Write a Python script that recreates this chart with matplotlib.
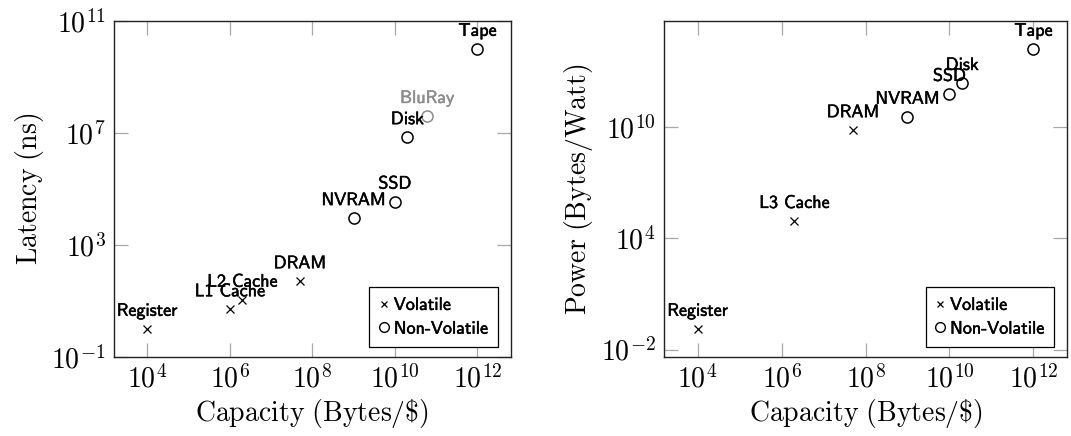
import matplotlib
matplotlib.use("Agg")
import matplotlib.pyplot as plt
from matplotlib.ticker import FixedLocator, FuncFormatter, NullLocator
from matplotlib.lines import Line2D
import matplotlib.patheffects as pe
import numpy as np

plt.rcParams['mathtext.fontset'] = 'cm'
plt.rcParams['axes.unicode_minus'] = False

# ---- Latency chart data ----
lat_names = ['Register', 'L1 Cache', 'L2 Cache', 'DRAM', 'NVRAM', 'SSD', 'Disk', 'BluRay', 'Tape']
lat_capacity = [1e4, 1e6, 2e6, 5e7, 1e9, 1e10, 2e10, 6e10, 1e12]
lat_values = [1, 5, 11, 50, 9e3, 3.5e4, 7e6, 4e7, 1e10]
lat_volatile = [True, True, True, True, False, False, False, False, False]
lat_gray = [False, False, False, False, False, False, False, True, False]
lat_yticks = [1e-1, 1e3, 1e7, 1e11]

# ---- Power chart data ----
pow_names = ['Register', 'L3 Cache', 'DRAM', 'NVRAM', 'SSD', 'Disk', 'Tape']
pow_capacity = [1e4, 2e6, 5e7, 1e9, 1e10, 2e10, 1e12]
pow_values = [0.13, 8.5e4, 6.6e9, 3.5e10, 6e11, 2.3e12, 1.6e14]
pow_volatile = [True, True, True, False, False, False, False]
pow_gray = [False] * 7
pow_yticks = [1e-2, 1e4, 1e10]

xticks = [1e4, 1e6, 1e8, 1e10, 1e12]

fig = plt.figure(figsize=(10.71, 4.36), dpi=100)
ax1 = fig.add_axes([114 / 1071, 79 / 436, 396.5 / 1071, 336 / 436])
ax2 = fig.add_axes([664 / 1071, 79 / 436, 403 / 1071, 336 / 436])

TICK_FS = 20
LABEL_FS = 20
PT_FS = 13
STROKE = 0.35


def logfmt(v, pos):
    return r'$10^{%d}$' % int(round(np.log10(v)))


def enlarged(vals):
    lo, hi = np.log10(min(vals)), np.log10(max(vals))
    pad = 0.1 * (hi - lo)
    return 10 ** (lo - pad), 10 ** (hi + pad)


def draw(ax, names, cap, vals, vol, gray, yticks, ylabel):
    ax.set_xscale('log')
    ax.set_yscale('log')
    for n, x, y, v, g in zip(names, cap, vals, vol, gray):
        col = '#8c8c8c' if g else 'black'
        if v:
            ax.plot([x], [y], marker='x', ms=6, mew=0.9, color=col, ls='none')
        else:
            ax.plot([x], [y], marker='o', ms=8, mew=1.1, mfc='none', mec=col, ls='none')
        ax.annotate(n, (x, y), xytext=(0, 9.5), textcoords='offset points',
                    ha='center', va='baseline', fontsize=PT_FS, family='cmss10',
                    color=col,
                    path_effects=[pe.withStroke(linewidth=STROKE, foreground=col)])
    ax.set_xlim(*enlarged(cap))
    ax.set_ylim(*enlarged(vals))
    ax.xaxis.set_major_locator(FixedLocator(xticks))
    ax.yaxis.set_major_locator(FixedLocator(yticks))
    ax.xaxis.set_minor_locator(NullLocator())
    ax.yaxis.set_minor_locator(NullLocator())
    ax.xaxis.set_major_formatter(FuncFormatter(logfmt))
    ax.yaxis.set_major_formatter(FuncFormatter(logfmt))
    ax.tick_params(which='major', direction='in', length=10, width=0.9,
                   color='#a8a8a8', top=True, right=True, labelsize=TICK_FS, pad=6)
    for s in ax.spines.values():
        s.set_linewidth(1.0)
        s.set_color('#222222')
    ax.set_xlabel(r'$\mathrm{Capacity\ (Bytes/\$)}$', fontsize=LABEL_FS, labelpad=2)
    ax.set_ylabel(ylabel, fontsize=LABEL_FS, labelpad=4)
    handles = [Line2D([], [], marker='x', ms=5, mew=0.9, color='black', ls='none'),
               Line2D([], [], marker='o', ms=7, mew=1.0, mfc='none', mec='black', ls='none')]
    leg = ax.legend(handles, ['Volatile', 'Non-Volatile'], loc='lower right',
                    bbox_to_anchor=(0.968, 0.031), borderaxespad=0, fancybox=False,
                    framealpha=1, edgecolor='black', handlelength=0.5, handletextpad=0.3,
                    borderpad=0.55, labelspacing=0.45, prop={'family': 'cmss10', 'size': PT_FS})
    for t in leg.get_texts():
        t.set_path_effects([pe.withStroke(linewidth=STROKE, foreground='black')])
    leg.get_frame().set_linewidth(0.9)


draw(ax1, lat_names, lat_capacity, lat_values, lat_volatile, lat_gray, lat_yticks,
     r'$\mathrm{Latency\ (ns)}$')
draw(ax2, pow_names, pow_capacity, pow_values, pow_volatile, pow_gray, pow_yticks,
     r'$\mathrm{Power\ (Bytes/Watt)}$')

fig.savefig('out.png', dpi=100)
